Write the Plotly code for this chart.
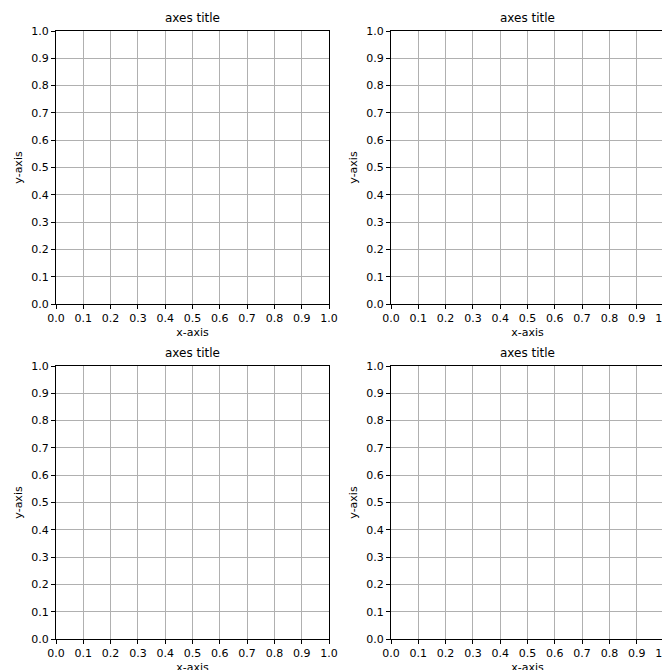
import plotly.graph_objects as go

# tick positions shared by every panel
tick_vals = [0.0, 0.1, 0.2, 0.3, 0.4, 0.5, 0.6, 0.7, 0.8, 0.9, 1.0]
tick_text = ["0.0", "0.1", "0.2", "0.3", "0.4", "0.5", "0.6", "0.7", "0.8", "0.9", "1.0"]
panel_titles = ["axes title", "axes title", "axes title", "axes title"]

W = H = 670
x_doms = [(48 / W, 321 / W), (383 / W, 656 / W)]
y_doms = [(1 - 296 / H, 1 - 23 / H), (1 - 631 / H, 1 - 358 / H)]

fig = go.Figure()
layout = {}
annotations = []
font = dict(family="DejaVu Sans", size=11, color="black")

for i in range(4):
    row, col = divmod(i, 2)
    n = "" if i == 0 else str(i + 1)
    fig.add_trace(go.Scatter(x=[], y=[], xaxis="x" + n, yaxis="y" + n,
                             showlegend=False))
    common = dict(range=[0, 1], tickvals=tick_vals, ticktext=tick_text,
                  showline=True, linecolor="black", linewidth=1, mirror=True,
                  ticks="outside", ticklen=4, tickcolor="black",
                  showgrid=True, gridcolor="#b0b0b0", gridwidth=1,
                  zeroline=False, tickfont=font, automargin=False)
    layout["xaxis" + n] = dict(common, domain=x_doms[col], anchor="y" + n,
                               title=dict(text="x-axis", font=font, standoff=4))
    layout["yaxis" + n] = dict(common, domain=y_doms[row], anchor="x" + n,
                               title=dict(text="y-axis", font=font, standoff=6))
    annotations.append(dict(
        text=panel_titles[i], xref="paper", yref="paper",
        x=sum(x_doms[col]) / 2, y=y_doms[row][1], yanchor="bottom",
        xanchor="center", yshift=4, showarrow=False,
        font=dict(family="DejaVu Sans", size=12, color="black")))

fig.update_layout(width=W, height=H, margin=dict(l=0, r=0, t=0, b=0),
                  plot_bgcolor="white", paper_bgcolor="white",
                  annotations=annotations, **layout)

fig.write_html("out.html")
